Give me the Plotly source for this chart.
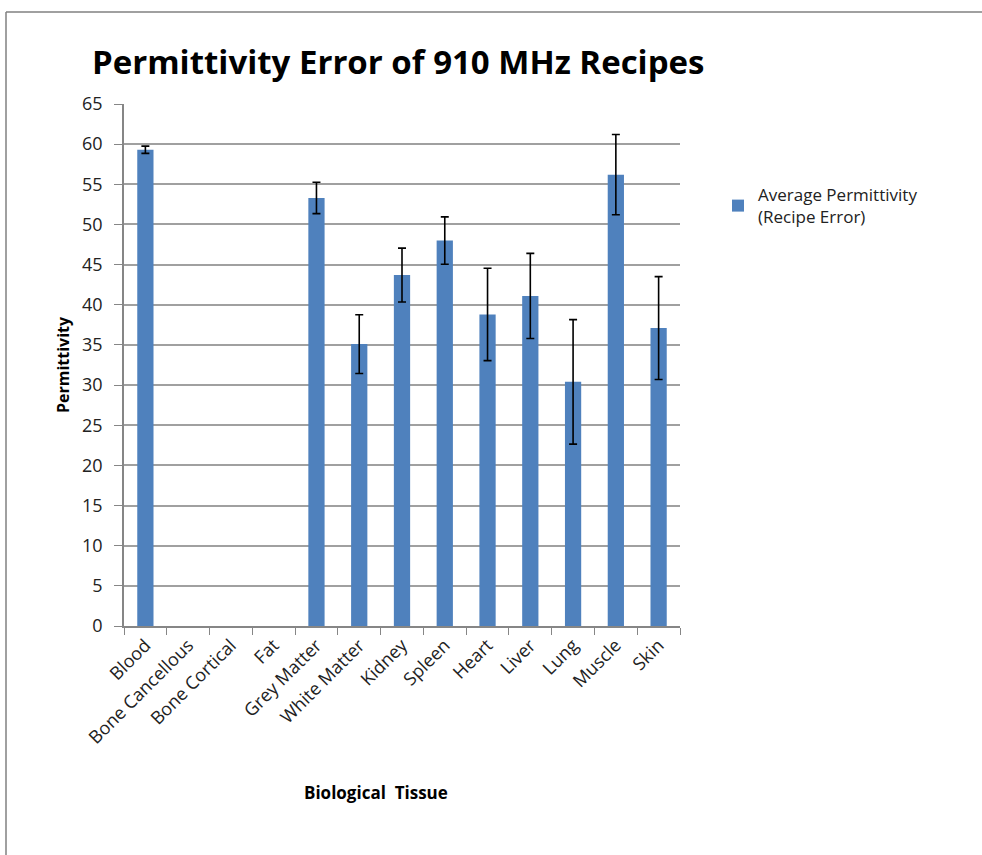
import plotly.graph_objects as go

categories = ["Blood", "Bone Cancellous", "Bone Cortical", "Fat", "Grey Matter",
              "White Matter", "Kidney", "Spleen", "Heart", "Liver", "Lung", "Muscle", "Skin"]
values = [59.3, None, None, None, 53.3, 35.1, 43.7, 48.0, 38.8, 41.1, 30.4, 56.2, 37.1]
errors = [0.45, None, None, None, 1.95, 3.65, 3.35, 2.95, 5.75, 5.3, 7.75, 5.0, 6.4]
y_ticks = list(range(0, 66, 5))

W, H = 982, 855
L, R, T, B = 124, 680, 104, 626

fig = go.Figure()
fig.add_trace(go.Bar(
    x=categories, y=values,
    name="Average Permittivity<br>(Recipe Error)",
    marker=dict(color="#4F81BD", line=dict(width=0)),
    error_y=dict(type="data", array=errors, visible=True, color="black",
                 thickness=1.6, width=4),
))

font_family = "Open Sans, Liberation Sans, sans-serif"

def px_x(p):
    return (p - L) / (R - L)

def px_y(p):
    return (B - p) / (B - T)

fig.update_layout(
    width=W, height=H,
    margin=dict(l=L, r=W - R, t=T, b=H - B),
    paper_bgcolor="white", plot_bgcolor="white",
    bargap=0.62,
    font=dict(family=font_family, size=15, color="#222222"),
    title=dict(text="<b>Permittivity Error of 910 MHz Recipes</b>",
               font=dict(family=font_family, size=33, color="black"),
               x=92 / W, xanchor="left", xref="container",
               y=1 - 62 / H, yanchor="middle", yref="container"),
    showlegend=True,
    legend=dict(x=px_x(718), y=px_y(177), xanchor="left", yanchor="top",
                font=dict(size=17, family=font_family, color="#222222"),
                bgcolor="rgba(0,0,0,0)", itemwidth=30),
    xaxis=dict(
        categoryorder="array", categoryarray=categories,
        tickangle=-45, tickson="boundaries", ticks="outside", ticklen=7,
        tickcolor="#868686", showline=True, linecolor="#868686", linewidth=1.5,
        showgrid=False,
        tickfont=dict(size=18, family=font_family, color="#222222"),
    ),
    yaxis=dict(
        range=[0, 65], tickvals=y_ticks, ticks="outside", ticklen=8,
        ticklabelstandoff=8,
        tickcolor="#868686", showline=True, linecolor="#868686", linewidth=1.5,
        showgrid=True, gridcolor="#A0A0A0", gridwidth=1.5,
        zeroline=False,
        tickfont=dict(size=18, family=font_family, color="#222222"),
        title=dict(text="<b>Permittivity</b>",
                   font=dict(size=16, family=font_family, color="black"),
                   standoff=8),
    ),
    annotations=[
        dict(text="<b>Biological  Tissue</b>", xref="paper", yref="paper",
             x=px_x(376), y=px_y(792), xanchor="center", yanchor="middle",
             showarrow=False, font=dict(size=17, family=font_family, color="black")),
    ],
    shapes=[
        dict(type="line", xref="paper", yref="paper",
             x0=px_x(6), x1=px_x(990), y0=px_y(12), y1=px_y(12),
             line=dict(color="#808080", width=1.5)),
        dict(type="line", xref="paper", yref="paper",
             x0=px_x(6), x1=px_x(6), y0=px_y(12), y1=px_y(860),
             line=dict(color="#808080", width=1.5)),
    ],
)

fig.write_html("out.html", config={"displayModeBar": False},
               post_script="document.body.style.margin='0';document.body.style.overflow='hidden';")
